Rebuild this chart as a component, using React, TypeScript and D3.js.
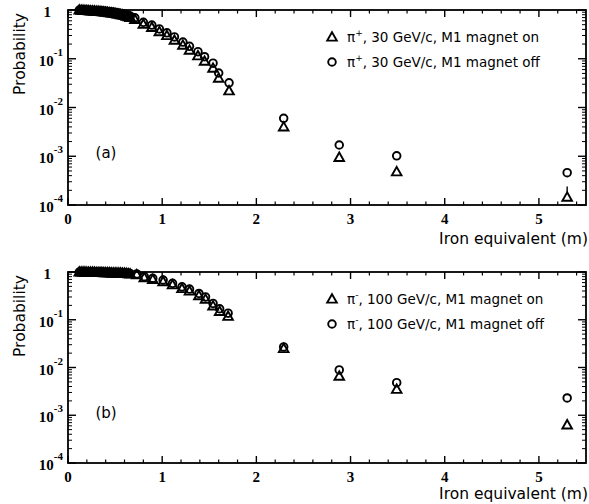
import * as d3 from 'd3';
import React from 'react';

// panel (a): pi+ 30 GeV/c
const xA = [0.12, 0.14, 0.16, 0.18, 0.20, 0.22, 0.24, 0.26, 0.28, 0.30, 0.32, 0.34, 0.36, 0.38, 0.40, 0.42, 0.44, 0.46, 0.48, 0.50,
  0.52, 0.54, 0.56, 0.58, 0.60, 0.62, 0.64, 0.66,
  0.71, 0.80, 0.89, 0.97, 1.05, 1.13, 1.22, 1.29, 1.38, 1.45, 1.54, 1.60, 1.71, 2.29, 2.88, 3.49, 5.30];
const offA = [1.00, 1.00, 1.00, 0.99, 0.99, 0.99, 0.98, 0.98, 0.97, 0.97, 0.96, 0.96, 0.95, 0.94, 0.94, 0.93, 0.92, 0.91, 0.90, 0.89,
  0.88, 0.86, 0.85, 0.83, 0.81, 0.79, 0.77, 0.75,
  0.69, 0.56, 0.49, 0.41, 0.34, 0.28, 0.22, 0.18, 0.14, 0.11, 0.081, 0.051, 0.032, 0.0060, 0.0017, 0.00102, 0.00046];
const onA = [1.00, 0.99, 0.99, 0.98, 0.98, 0.97, 0.96, 0.96, 0.95, 0.94, 0.94, 0.93, 0.92, 0.91, 0.90, 0.89, 0.88, 0.87, 0.86, 0.85,
  0.83, 0.82, 0.80, 0.79, 0.77, 0.75, 0.73, 0.70,
  0.64, 0.51, 0.44, 0.36, 0.30, 0.24, 0.19, 0.15, 0.115, 0.089, 0.064, 0.040, 0.022, 0.0040, 0.00095, 0.00048, 0.000145];
const onAErrUp = [{ x: 5.30, y: 0.00024 }];

// panel (b): pi- 100 GeV/c
const xB = [0.12, 0.14, 0.16, 0.18, 0.20, 0.22, 0.24, 0.26, 0.28, 0.30, 0.32, 0.34, 0.36, 0.38, 0.40, 0.42, 0.44, 0.46, 0.48, 0.50,
  0.52, 0.54, 0.56, 0.58, 0.60, 0.62, 0.64, 0.66,
  0.73, 0.81, 0.90, 1.01, 1.11, 1.21, 1.29, 1.39, 1.46, 1.54, 1.61, 1.70, 2.29, 2.88, 3.49, 5.30];
const offB = [1.00, 1.00, 1.00, 1.00, 1.00, 1.00, 1.00, 1.00, 0.99, 0.99, 0.99, 0.99, 0.99, 0.99, 0.98, 0.98, 0.98, 0.98, 0.97, 0.97,
  0.97, 0.96, 0.96, 0.96, 0.95, 0.95, 0.94, 0.93,
  0.91, 0.80, 0.74, 0.68, 0.58, 0.49, 0.44, 0.355, 0.30, 0.22, 0.17, 0.137, 0.027, 0.0089, 0.0048, 0.0023];
const onB = [1.00, 1.00, 1.00, 1.00, 0.99, 0.99, 0.99, 0.99, 0.99, 0.98, 0.98, 0.98, 0.98, 0.97, 0.97, 0.97, 0.97, 0.96, 0.96, 0.96,
  0.95, 0.95, 0.95, 0.94, 0.94, 0.93, 0.92, 0.91,
  0.88, 0.76, 0.70, 0.63, 0.54, 0.45, 0.40, 0.32, 0.27, 0.195, 0.15, 0.118, 0.025, 0.0066, 0.0035, 0.00063];

const xMajor = [0, 1, 2, 3, 4, 5];
const yDecades = [1e-4, 1e-3, 1e-2, 1e-1, 1];
const yExp = ['-4', '-3', '-2', '-1', ''];

const W = 589, H = 504;
const left = 68, right = 586;

const sans = "'DejaVu Sans', 'Open Sans', sans-serif";
const serif = "'Liberation Serif', 'Times New Roman', serif";
const MW = 1.9;

function Triangle({ x, y }) {
  const s = 4.8;
  return <path d={`M${x},${y - s}L${x + s},${y + s * 0.75}L${x - s},${y + s * 0.75}Z`} fill="none" stroke="#000" strokeWidth={MW} strokeLinejoin="miter" />;
}

function Panel({ top, bottom, xs, on, off, errUp, legendOn, legendOff, label, labelY, titleY }) {
  const x = d3.scaleLinear().domain([0, 5.5]).range([left, right]);
  const y = d3.scaleLog().domain([1e-4, 1]).range([bottom, top]);
  const minorX = d3.range(0, 5.5, 0.2).filter(v => Math.abs(v - Math.round(v)) > 0.01);
  const minorY = [];
  yDecades.slice(0, 4).forEach(d => { for (let k = 2; k <= 9; k++) minorY.push(d * k); });

  return (
    <g>
      <rect x={left} y={top} width={right - left} height={bottom - top} fill="none" stroke="#000" strokeWidth={1.8} />
      {xMajor.map(v => (
        <g key={'xm' + v}>
          <line x1={x(v)} x2={x(v)} y1={bottom} y2={bottom - 7} stroke="#000" strokeWidth={1.4} />
          <line x1={x(v)} x2={x(v)} y1={top} y2={top + 7} stroke="#000" strokeWidth={1.4} />
          <text x={x(v)} y={bottom + 19} textAnchor="middle" fontFamily={serif} fontWeight="bold" fontSize={15}>{v}</text>
        </g>
      ))}
      {minorX.map(v => (
        <g key={'xn' + v}>
          <line x1={x(v)} x2={x(v)} y1={bottom} y2={bottom - 3.5} stroke="#000" strokeWidth={1.2} />
          <line x1={x(v)} x2={x(v)} y1={top} y2={top + 3.5} stroke="#000" strokeWidth={1.2} />
        </g>
      ))}
      {yDecades.map((v, i) => (
        <g key={'ym' + i}>
          <line x1={left} x2={left + 8} y1={y(v)} y2={y(v)} stroke="#000" strokeWidth={1.4} />
          <line x1={right} x2={right - 8} y1={y(v)} y2={y(v)} stroke="#000" strokeWidth={1.4} />
          {yExp[i] === '' ? (
            <text x={51} y={y(v) + 7} textAnchor="end" fontFamily={serif} fontWeight="bold" fontSize={15}>1</text>
          ) : (
            <text x={63} y={y(v) + 7} textAnchor="end" fontFamily={serif} fontWeight="bold" fontSize={15}>
              10<tspan dy={-10} fontSize={11}>{yExp[i]}</tspan>
            </text>
          )}
        </g>
      ))}
      {minorY.map((v, i) => (
        <g key={'yn' + i}>
          <line x1={left} x2={left + 4} y1={y(v)} y2={y(v)} stroke="#000" strokeWidth={1} />
          <line x1={right} x2={right - 4} y1={y(v)} y2={y(v)} stroke="#000" strokeWidth={1} />
        </g>
      ))}
      <text transform={`translate(25,${top + 44}) rotate(-90)`} textAnchor="middle" fontFamily={sans} fontSize={15.5}>Probability</text>
      <text x={588} y={titleY} textAnchor="end" fontFamily={sans} fontSize={15.5}>Iron equivalent (m)</text>
      <text x={106} y={labelY} textAnchor="middle" fontFamily={sans} fontSize={15}>{label}</text>

      {/* legend */}
      <Triangle x={332} y={top + 27} />
      <text x={347} y={top + 32} fontFamily={sans} fontSize={13.5}>{legendOn}</text>
      <circle cx={332} cy={top + 52} r={3.8} fill="none" stroke="#000" strokeWidth={MW} />
      <text x={347} y={top + 57} fontFamily={sans} fontSize={13.5}>{legendOff}</text>

      {errUp.map((e, i) => (
        <line key={'e' + i} x1={x(e.x)} x2={x(e.x)} y1={y(e.y)} y2={y(on[xs.indexOf(e.x)]) - 4} stroke="#000" strokeWidth={1.4} />
      ))}
      {xs.map((v, i) => <Triangle key={'t' + i} x={x(v)} y={y(on[i])} />)}
      {xs.map((v, i) => (
        <circle key={'c' + i} cx={x(v)} cy={y(off[i])} r={3.8} fill="none" stroke="#000" strokeWidth={MW} />
      ))}
    </g>
  );
}

export default function App() {
  return (
    <svg width={W} height={H} style={{ position: 'absolute', left: 0, top: 0, background: '#fff' }}>
      <rect width={W} height={H} fill="#fff" />
      <Panel top={10} bottom={205} xs={xA} on={onA} off={offA} errUp={onAErrUp}
        legendOn={<>{'\u03C0'}<tspan dy={-6} fontSize={9}>+</tspan><tspan dy={6}>, 30 GeV/c, M1 magnet on</tspan></>}
        legendOff={<>{'\u03C0'}<tspan dy={-6} fontSize={9}>+</tspan><tspan dy={6}>, 30 GeV/c, M1 magnet off</tspan></>}
        label="(a)" labelY={158} titleY={244} />
      <Panel top={272} bottom={463} xs={xB} on={onB} off={offB} errUp={[]}
        legendOn={<>{'\u03C0'}<tspan dy={-6} fontSize={9}>-</tspan><tspan dy={6}>, 100 GeV/c, M1 magnet on</tspan></>}
        legendOff={<>{'\u03C0'}<tspan dy={-6} fontSize={9}>-</tspan><tspan dy={6}>, 100 GeV/c, M1 magnet off</tspan></>}
        label="(b)" labelY={418} titleY={499} />
    </svg>
  );
}
